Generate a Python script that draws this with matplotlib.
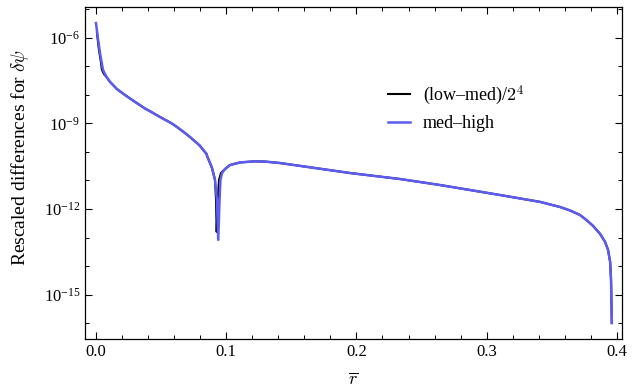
import numpy as np
import matplotlib
matplotlib.use("Agg")
import matplotlib.pyplot as plt
from matplotlib.ticker import LogLocator, MultipleLocator, NullFormatter, LogFormatterMathtext

plt.rcParams['font.family'] = ['Liberation Serif', 'DejaVu Serif']
plt.rcParams['mathtext.fontset'] = 'cm'

# values (log10 of the rescaled differences)
x_medhigh = [0.0, 0.0015, 0.0031, 0.0054, 0.0077, 0.0108, 0.0161, 0.0223, 0.0300, 0.0376,
             0.0428, 0.0492, 0.0581, 0.0622, 0.0684, 0.0722, 0.0783, 0.0799, 0.0850, 0.0853,
             0.0891, 0.0914, 0.0929, 0.0939, 0.0949,
             0.0956, 0.0968, 0.0991, 0.1029, 0.1106, 0.1221, 0.1298, 0.1413, 0.1567, 0.1951,
             0.2335, 0.2642, 0.3103, 0.3410, 0.3564, 0.3640, 0.3717, 0.3770, 0.3817, 0.3871,
             0.3909, 0.3932, 0.3948, 0.3955, 0.3961]
log_medhigh = [-5.49, -6.01, -6.54, -7.13, -7.34, -7.55, -7.80, -8.01, -8.25, -8.48,
               -8.61, -8.78, -9.00, -9.13, -9.34, -9.48, -9.72, -9.79, -10.08, -10.14,
               -10.56, -10.98, -11.68, -13.08, -11.68,
               -10.98, -10.74, -10.60, -10.46, -10.37, -10.33, -10.34, -10.39, -10.49, -10.74,
               -10.95, -11.16, -11.51, -11.75, -11.93, -12.05, -12.21, -12.40, -12.59, -12.87,
               -13.15, -13.43, -13.85, -14.48, -15.99]

x_lowmed = [0.0008, 0.0023, 0.0038, 0.0046, 0.0061, 0.0077, 0.0108, 0.0161, 0.0223, 0.0300,
            0.0376, 0.0428, 0.0492, 0.0581, 0.0622, 0.0684, 0.0722, 0.0783, 0.0799, 0.0850,
            0.0853, 0.0891, 0.0914, 0.0922, 0.0927,
            0.0935, 0.0945, 0.0960, 0.0991, 0.1029, 0.1106, 0.1221, 0.1298, 0.1413, 0.1567,
            0.1951, 0.2335, 0.2642, 0.3103, 0.3410, 0.3564, 0.3640, 0.3717, 0.3770, 0.3817,
            0.3871, 0.3909, 0.3932, 0.3948, 0.3955, 0.3961]
log_lowmed = [-5.84, -6.43, -6.85, -7.13, -7.27, -7.36, -7.55, -7.80, -8.01, -8.25,
              -8.48, -8.61, -8.78, -9.00, -9.13, -9.34, -9.48, -9.72, -9.79, -10.08,
              -10.14, -10.56, -10.98, -11.68, -12.80,
              -11.68, -10.98, -10.74, -10.60, -10.46, -10.37, -10.33, -10.34, -10.39, -10.49,
              -10.74, -10.95, -11.16, -11.51, -11.75, -11.93, -12.05, -12.21, -12.40, -12.59,
              -12.87, -13.15, -13.43, -13.85, -14.48, -15.99]

fig = plt.figure(figsize=(6.43, 3.91), dpi=100)
ax = fig.add_axes([0.1322, 0.1322, 0.8347, 0.8491])

ax.plot(x_lowmed, 10**np.array(log_lowmed), color='black', lw=1.5, label='(low–med)/$2^4$')
ax.plot(x_medhigh, 10**np.array(log_medhigh), color='#5c5cf2', lw=1.8, label='med–high')

ax.set_yscale('log')
ax.set_xlim(-0.0084, 0.4037)
ax.set_ylim(10**-16.56, 10**-4.94)

ax.xaxis.set_minor_locator(MultipleLocator(0.02))
ax.set_xticks([0.0, 0.1, 0.2, 0.3, 0.4])
ax.set_xticklabels(['0.0', '0.1', '0.2', '0.3', '0.4'])
ax.set_yticks([1e-6, 1e-9, 1e-12, 1e-15])
ax.yaxis.set_major_formatter(LogFormatterMathtext())
ax.yaxis.set_minor_locator(LogLocator(base=10, subs=[1.0], numticks=30))
ax.yaxis.set_minor_formatter(NullFormatter())

ax.tick_params(which='both', direction='in', top=True, right=True, labelsize=12)
ax.tick_params(which='major', length=5, width=0.8)
ax.tick_params(which='minor', length=3, width=0.7)
for s in ax.spines.values():
    s.set_linewidth(0.9)

ax.set_xlabel(r'$\overline{r}$', fontsize=13, labelpad=8)
ax.set_ylabel(r'Rescaled differences for $\delta\psi$', fontsize=14)
ax.yaxis.set_label_coords(-0.1, 0.549)

ax.legend(loc='upper left', bbox_to_anchor=(0.535, 0.82), frameon=False, fontsize=13,
          handlelength=1.2, handletextpad=0.7, labelspacing=0.45)

fig.savefig('out.png', dpi=100)
